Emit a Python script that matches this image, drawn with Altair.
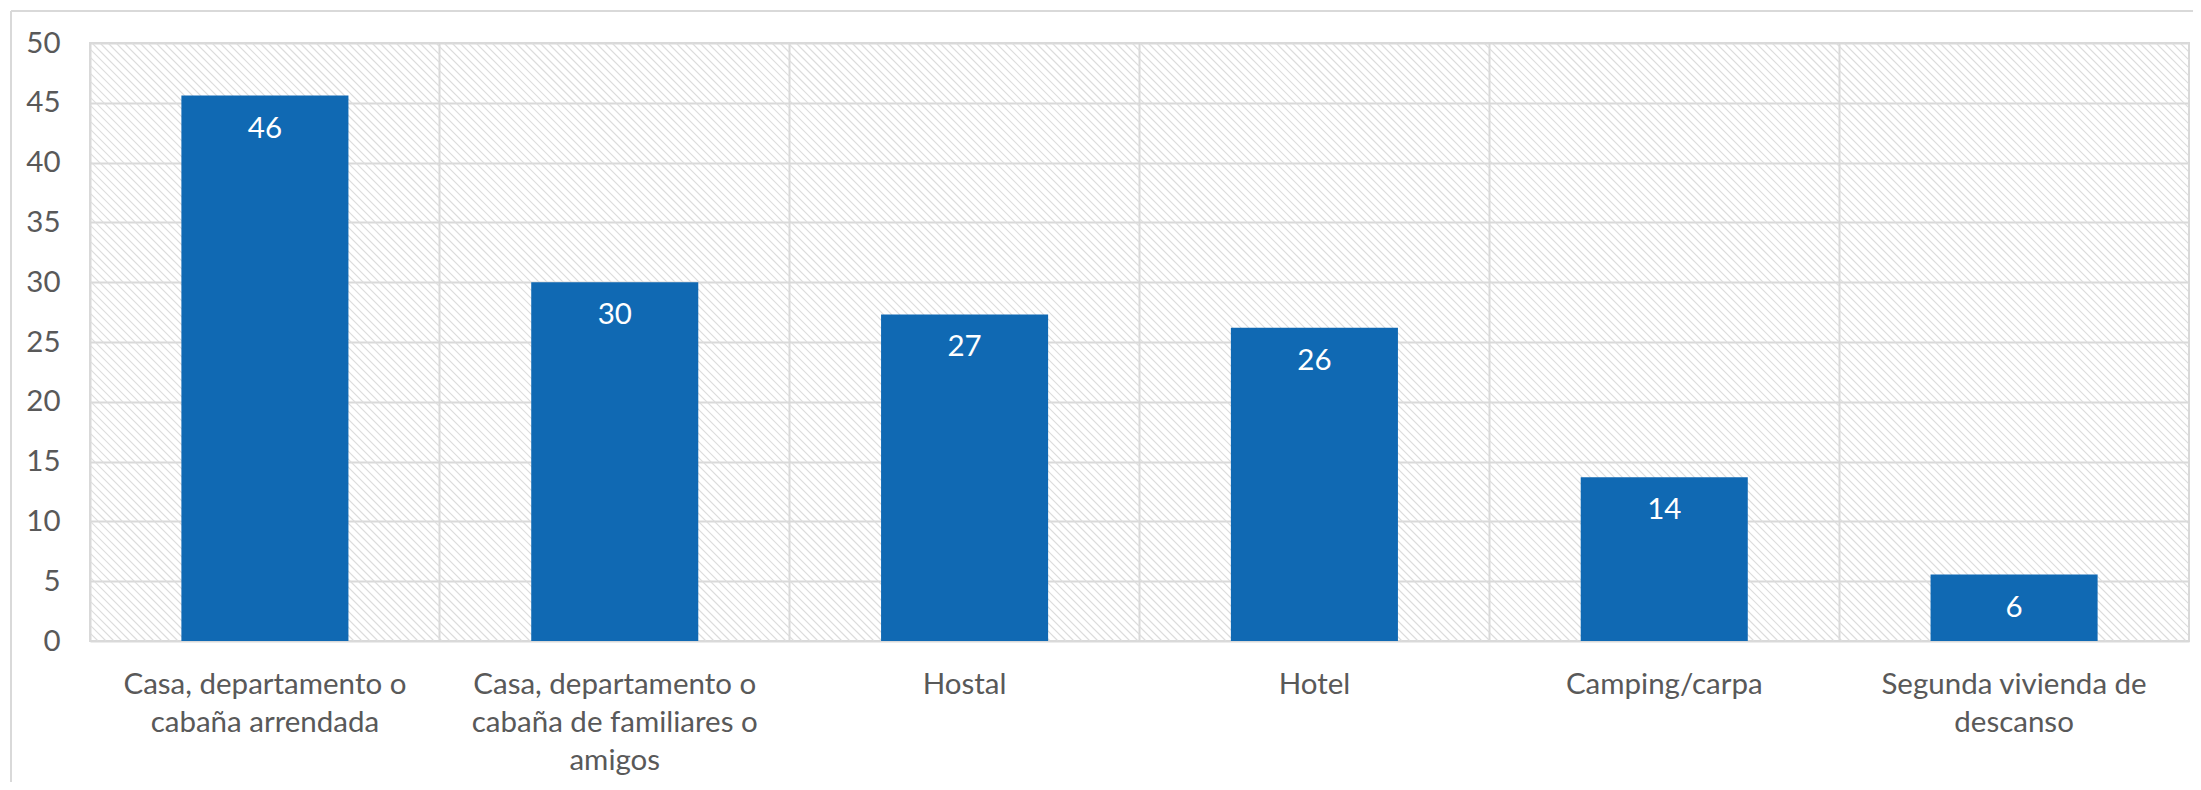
import json
import altair as alt
import pandas as pd

# ---- data ----
categories = [
    "Casa, departamento o cabaña arrendada",
    "Casa, departamento o cabaña de familiares o amigos",
    "Hostal",
    "Hotel",
    "Camping/carpa",
    "Segunda vivienda de descanso",
]
values = [45.6, 30.0, 27.3, 26.2, 13.7, 5.55]
label_lines = [
    ["Casa, departamento o", "cabaña arrendada"],
    ["Casa, departamento o", "cabaña de familiares o", "amigos"],
    ["Hostal"],
    ["Hotel"],
    ["Camping/carpa"],
    ["Segunda vivienda de", "descanso"],
]
y_ticks = list(range(0, 51, 5))

# ---- styling ----
W, H = 2099, 598
BLUE = "#1069B3"
GRID = "#d9d9d9"
TEXT = "#595959"
FONT = "Lato"
FS = 29.5

df = pd.DataFrame({"cat": categories, "val": values})

expr = "datum.label"
for c, lines in reversed(list(zip(categories, label_lines))):
    expr = f"datum.label == {json.dumps(c, ensure_ascii=False)} ? {json.dumps(lines, ensure_ascii=False)} : ({expr})"

x_enc = alt.X(
    "cat:N",
    sort=categories,
    scale=alt.Scale(paddingInner=0, paddingOuter=0),
    axis=alt.Axis(
        title=None, labelAngle=0, grid=True, bandPosition=0, gridColor=GRID, gridWidth=2,
        domain=False, ticks=False, tickSize=0, labelPadding=29, labelLineHeight=38,
        labelFont=FONT, labelFontSize=FS, labelColor=TEXT, labelLimit=0, labelExpr=expr,
    ),
)
y_enc = alt.Y(
    "val:Q",
    scale=alt.Scale(domain=[0, 50], nice=False),
    axis=alt.Axis(
        title=None, values=y_ticks, grid=True, gridColor=GRID, gridWidth=2,
        domain=False, ticks=False, tickSize=0, labelPadding=30,
        labelFont=FONT, labelFontSize=FS, labelColor=TEXT,
    ),
)

base = alt.Chart(df)
bars = base.mark_bar(color=BLUE, width=alt.RelativeBandSize(0.4775)).encode(x=x_enc, y=y_enc)
labels = base.mark_text(
    color="white", font=FONT, fontSize=FS, baseline="alphabetic", align="center", dy=42
).encode(x=alt.X("cat:N", sort=categories), y="val:Q", text=alt.Text("val:Q", format=".0f"))
main = alt.layer(bars, labels)

# background hatching (decorative)
hatch = (
    alt.Chart(alt.sequence(start=-H, stop=W + 8, step=8, as_="t"))
    .transform_calculate(xa="datum.t", xb=f"datum.t + {H}", ya=f"{H}", yb="0")
    .mark_rule(color="#dcdcdc", strokeWidth=1.2, clip=True)
    .encode(
        x=alt.X("xa:Q", scale=alt.Scale(domain=[0, W], nice=False, zero=False), axis=None),
        x2="xb:Q",
        y=alt.Y("ya:Q", scale=alt.Scale(domain=[0, H], nice=False), axis=None),
        y2="yb:Q",
    )
)

# outer chart-area frame (decorative)
frame_top = alt.Chart(alt.Data(values=[{}])).mark_rule(color=GRID, strokeWidth=2).encode(
    x=alt.value(-79), x2=alt.value(2200), y=alt.value(-32)
)
frame_left = alt.Chart(alt.Data(values=[{}])).mark_rule(color=GRID, strokeWidth=2).encode(
    x=alt.value(-79), y=alt.value(-32), y2=alt.value(800)
)

chart = (
    alt.layer(hatch, main, frame_top, frame_left)
    .resolve_scale(x="independent", y="independent")
    .properties(
        width=W, height=H,
        autosize=alt.AutoSizeParams(type="none"),
        padding={"left": 82, "top": 35, "right": 4, "bottom": 141},
        background="white",
    )
    .configure_view(stroke=GRID, strokeWidth=2)
)

chart.save("out.html", embed_options={"renderer": "svg", "actions": False})
